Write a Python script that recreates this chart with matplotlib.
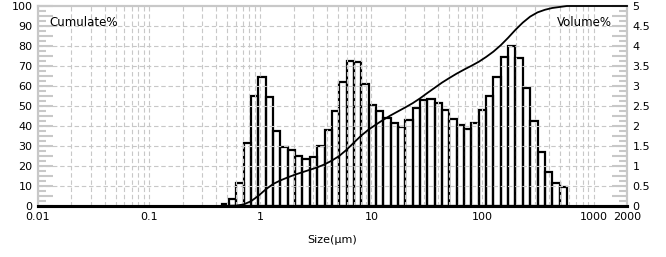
import numpy as np
import matplotlib
matplotlib.use("Agg")
import matplotlib.pyplot as plt
from matplotlib.ticker import MultipleLocator, FuncFormatter, LogLocator, NullFormatter

# size class edges (um) and volume % per class
size_edges = [0.450, 0.524, 0.610, 0.710, 0.827, 0.963, 1.121, 1.306, 1.520, 1.770,
              2.061, 2.400, 2.795, 3.254, 3.789, 4.412, 5.138, 5.982, 6.966, 8.111,
              9.445, 11.00, 12.81, 14.91, 17.36, 20.22, 23.54, 27.41, 31.92, 37.15,
              43.26, 50.38, 58.66, 68.30, 79.53, 92.61, 107.8, 125.6, 146.2, 170.2,
              198.2, 230.8, 268.8, 313.0, 364.4, 424.3, 494.1, 575.3]
volume = [0.06, 0.17, 0.58, 1.57, 2.76, 3.23, 2.73, 1.88, 1.47, 1.40, 1.26,
          1.17, 1.23, 1.51, 1.89, 2.37, 3.11, 3.63, 3.61, 3.04, 2.53, 2.37,
          2.21, 2.07, 1.98, 2.16, 2.46, 2.66, 2.68, 2.57, 2.39, 2.18, 2.02, 1.93,
          2.08, 2.39, 2.76, 3.23, 3.73, 3.99, 3.71, 2.96, 2.12, 1.36, 0.86, 0.58, 0.48]
# cumulative % at the upper edge of each class
cumulate = [0.1, 0.2, 0.8, 2.4, 5.1, 8.3, 11.0, 12.8, 14.3, 15.7, 16.9,
            18.1, 19.3, 20.8, 22.7, 25.0, 28.1, 31.7, 35.2, 38.2, 40.7, 43.1,
            45.3, 47.3, 49.3, 51.4, 53.8, 56.5, 59.1, 61.7, 64.0, 66.2, 68.2, 70.1,
            72.1, 74.5, 77.2, 80.4, 84.1, 88.1, 91.7, 94.7, 96.8, 98.1, 99.0, 99.5, 100.0]

x_ticks = [0.01, 0.1, 1, 10, 100, 1000, 2000]
x_labels = ["0.01", "0.1", "1", "10", "100", "1000", "2000"]
grid_levels = [10, 20, 30, 40, 50, 60, 70, 80, 90]

GRAY = "#c8c8c8"

fig = plt.figure(figsize=(6.66, 2.57), dpi=100)
ax = fig.add_axes([38 / 666, 1 - 206 / 257, 589 / 666, 200 / 257])
ax2 = ax.twinx()

# bars on the right axis (unfilled so grid shows through)
edges = np.array(size_edges)
ax2.bar(edges[:-1], volume, width=np.diff(edges), align="edge",
        facecolor="none", edgecolor="black", linewidth=1.6, zorder=3)

# cumulative curve on the left axis, drawn on top
cx = [0.01, size_edges[0]] + size_edges[1:] + [2000]
cy = [0, 0] + cumulate + [100]
ax.plot(cx, cy, color="black", linewidth=1.3, zorder=5, clip_on=False)
ax.set_zorder(ax2.get_zorder() + 1)
ax.patch.set_visible(False)

ax.set_xscale("log")
ax.set_xlim(0.01, 2000)
ax.set_ylim(0, 100)
ax2.set_ylim(0, 5)

ax.set_xticks(x_ticks)
ax.set_xticklabels(x_labels)
ax.xaxis.set_minor_locator(LogLocator(base=10, subs=np.arange(2, 10)))
ax.xaxis.set_minor_formatter(NullFormatter())
ax.tick_params(axis="x", which="both", length=0, labelsize=8, pad=4)

# grid
ax.grid(True, which="both", axis="x", color=GRAY, linestyle=(0, (4, 2.5)), linewidth=0.8)
for lvl in grid_levels:
    ax.axhline(lvl, color=GRAY, linestyle=(0, (4, 2.5)), linewidth=0.8, zorder=0.5)

# left ticks
ax.yaxis.set_major_locator(MultipleLocator(5))
ax.yaxis.set_minor_locator(MultipleLocator(2.5))
ax.yaxis.set_major_formatter(FuncFormatter(lambda v, p: f"{v:g}" if v % 10 == 0 else ""))
ax.tick_params(axis="y", which="major", direction="in", length=11, width=1.5,
               color=GRAY, labelsize=8, pad=4)
ax.tick_params(axis="y", which="minor", direction="in", length=6, width=1.5, color=GRAY)

# right ticks
ax2.yaxis.set_major_locator(MultipleLocator(0.25))
ax2.yaxis.set_minor_locator(MultipleLocator(0.125))
ax2.yaxis.set_major_formatter(FuncFormatter(lambda v, p: f"{v:g}" if abs(v * 2 - round(v * 2)) < 1e-6 else ""))
ax2.tick_params(axis="y", which="major", direction="in", length=11, width=1.5,
                color=GRAY, labelsize=8, pad=4)
ax2.tick_params(axis="y", which="minor", direction="in", length=6, width=1.5, color=GRAY)

for a in (ax, ax2):
    for side in ("left", "right", "top"):
        a.spines[side].set_color(GRAY)
        a.spines[side].set_linewidth(1.5)
    a.spines["bottom"].set_color("black")
    a.spines["bottom"].set_linewidth(2.2)

ax.text(0.02, 0.92, "Cumulate%", transform=ax.transAxes, fontsize=8.5, va="center", ha="left")
ax.text(0.975, 0.92, "Volume%", transform=ax.transAxes, fontsize=8.5, va="center", ha="right")
ax.set_xlabel("Size(μm)", fontsize=8, labelpad=10)

fig.savefig("out.png", dpi=100)
